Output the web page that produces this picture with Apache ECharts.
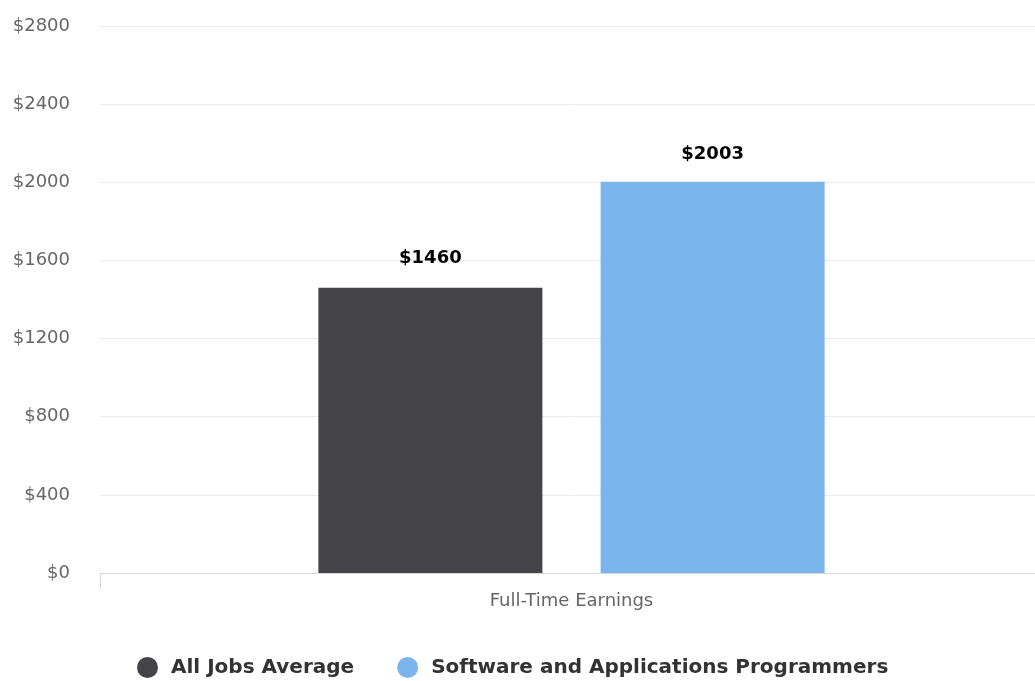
<!DOCTYPE html>
<html>
<head>
<meta charset="utf-8">
<script src="https://cdn.jsdelivr.net/npm/echarts@6/dist/echarts.min.js"></script>
<style>html,body{margin:0;padding:0;background:#fff;overflow:hidden}#c{width:1043px;height:681px}</style>
</head>
<body>
<div id="c"></div>
<script>
const categories = ['Full-Time Earnings'];
const seriesNames = ['All Jobs Average', 'Software and Applications Programmers'];
const allJobs = [1460];
const programmers = [2003];
const yTicks = { min: 0, max: 2800, interval: 400 };

const chart = echarts.init(document.getElementById('c'));
const font = 'DejaVu Sans';
chart.setOption({
  animation: false,
  grid: { left: 100, right: 0, top: 26, bottom: 108, containLabel: false },
  legend: {
    top: 652,
    left: 132,
    icon: 'circle',
    itemWidth: 37,
    itemHeight: 21,
    itemGap: 43,
    textStyle: { fontFamily: font, fontWeight: 'bold', fontSize: 20, color: '#333' },
    data: seriesNames
  },
  xAxis: {
    type: 'category',
    data: categories,
    axisLine: { lineStyle: { color: '#d8d8d8', width: 1 } },
    axisTick: { show: true, length: 16, lineStyle: { color: '#d8d8d8' } },
    axisLabel: { fontFamily: font, fontSize: 18, color: '#666', margin: 19 }
  },
  yAxis: {
    type: 'value',
    min: yTicks.min, max: yTicks.max, interval: yTicks.interval,
    axisLine: { show: false },
    axisTick: { show: false },
    splitLine: { lineStyle: { color: '#ebebeb', width: 1 } },
    axisLabel: { fontFamily: font, fontSize: 18, color: '#666', margin: 30, formatter: v => '$' + v }
  },
  series: [
    {
      name: seriesNames[0], type: 'bar', data: allJobs,
      barWidth: 224, barGap: '26%',
      itemStyle: { color: '#434348' },
      label: { show: true, position: 'top', distance: 20, fontFamily: font, fontWeight: 'bold', fontSize: 18, color: '#000', formatter: p => '$' + p.value }
    },
    {
      name: seriesNames[1], type: 'bar', data: programmers,
      barWidth: 224,
      itemStyle: { color: '#7cb5ec' },
      label: { show: true, position: 'top', distance: 18, fontFamily: font, fontWeight: 'bold', fontSize: 18, color: '#000', formatter: p => '$' + p.value }
    }
  ]
});
</script>
</body>
</html>
